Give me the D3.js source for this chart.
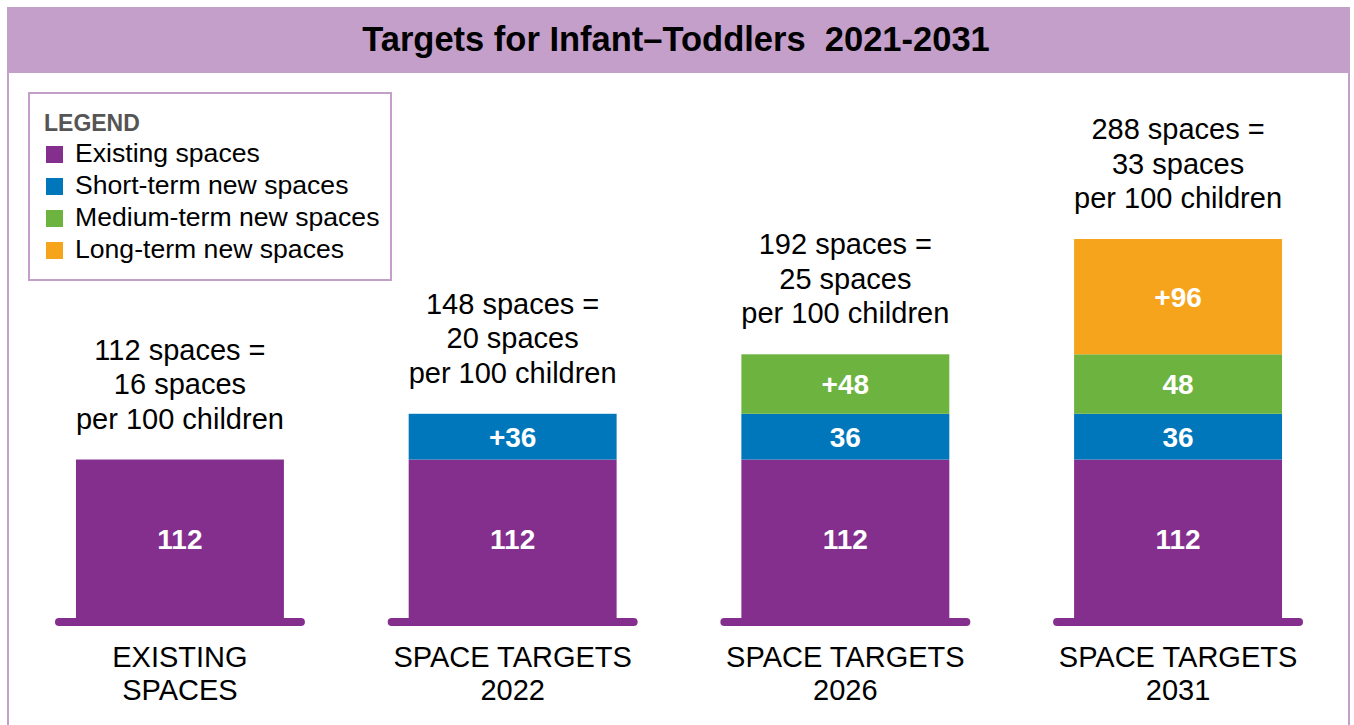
<!DOCTYPE html>
<html>
<head>
<meta charset="utf-8">
<script src="https://cdn.jsdelivr.net/npm/d3@7"></script>
<style>
  body { margin: 0; background: #fff; }
  text { font-family: "Liberation Sans", Arial, sans-serif; }
</style>
</head>
<body>
<script>
// data
var categories = [["EXISTING", "SPACES"], ["SPACE TARGETS", "2022"], ["SPACE TARGETS", "2026"], ["SPACE TARGETS", "2031"]];
var existing   = [112, 112, 112, 112];
var shortTerm  = [0, 36, 36, 36];
var mediumTerm = [0, 0, 48, 48];
var longTerm   = [0, 0, 0, 96];
var totalSpaces = [112, 148, 192, 288];
var per100 = [16, 20, 25, 33];
var seriesNames = ["Existing spaces", "Short-term new spaces", "Medium-term new spaces", "Long-term new spaces"];

var keys = ["existing", "shortTerm", "mediumTerm", "longTerm"];
var colors = { existing: "#842e8e", shortTerm: "#0077bb", mediumTerm: "#6db33f", longTerm: "#f7a41d" };
var lilac = "#c39fc9";

var W = 1354, H = 725;
var baseY = 618;

var rows = categories.map(function(c, i){
    return { cat: i, existing: existing[i], shortTerm: shortTerm[i], mediumTerm: mediumTerm[i], longTerm: longTerm[i] };
});

var stacked = d3.stack().keys(keys)(rows);

var x = d3.scaleBand()
    .domain(d3.range(categories.length))
    .range([42.7, 1315.3])
    .paddingInner(0.375)
    .paddingOuter(0.1);

// the drawing is not quite to scale, a soft power curve fits it
var y = d3.scalePow().exponent(0.91)
    .domain([0, 292])
    .range([baseY, baseY - 379]);

var svg = d3.select("body").append("svg")
    .attr("width", W)
    .attr("height", H);

// frame + title band
svg.append("rect")
    .attr("x", 8).attr("y", 8)
    .attr("width", 1341).attr("height", 730)
    .attr("fill", "white")
    .attr("stroke", lilac)
    .attr("stroke-width", 2);

svg.append("rect")
    .attr("x", 7).attr("y", 7)
    .attr("width", 1343).attr("height", 66)
    .attr("fill", lilac);

svg.append("text")
    .attr("x", 676).attr("y", 51)
    .attr("text-anchor", "middle")
    .attr("font-size", 34.5)
    .attr("font-weight", "bold")
    .attr("fill", "#000")
    .attr("xml:space", "preserve")
    .text("Targets for Infant\u2013Toddlers  2021-2031");

// legend
var lg = svg.append("g").attr("transform", "translate(29,93)");
lg.append("rect")
    .attr("width", 362).attr("height", 187)
    .attr("fill", "white")
    .attr("stroke", lilac)
    .attr("stroke-width", 2);
lg.append("text")
    .attr("x", 15).attr("y", 38)
    .attr("font-size", 23)
    .attr("font-weight", "bold")
    .attr("fill", "#555")
    .text("LEGEND");
var items = lg.selectAll("g.item")
    .data(keys)
    .enter().append("g")
    .attr("class", "item")
    .attr("transform", function(d, i){ return "translate(17," + (62 + i * 32) + ")"; });
items.append("rect")
    .attr("width", 17).attr("height", 17)
    .attr("y", -9)
    .attr("fill", function(d){ return colors[d]; });
items.append("text")
    .attr("x", 29).attr("y", 7)
    .attr("font-size", 26.6)
    .attr("fill", "#000")
    .text(function(d, i){ return seriesNames[i]; });

// base lines
svg.selectAll("line.base")
    .data(categories)
    .enter().append("line")
    .attr("class", "base")
    .attr("x1", function(d, i){ return x(i) - 17; })
    .attr("x2", function(d, i){ return x(i) + x.bandwidth() + 17; })
    .attr("y1", baseY + 4).attr("y2", baseY + 4)
    .attr("stroke", colors.existing)
    .attr("stroke-width", 8)
    .attr("stroke-linecap", "round");

// stacked segments
var layers = svg.selectAll("g.layer")
    .data(stacked)
    .enter().append("g")
    .attr("class", "layer")
    .attr("fill", function(d){ return colors[d.key]; });

layers.selectAll("rect")
    .data(function(d){ return d.filter(function(p){ return p[1] > p[0]; }); })
    .enter().append("rect")
    .attr("x", function(d){ return x(d.data.cat); })
    .attr("width", x.bandwidth())
    .attr("y", function(d){ return y(d[1]); })
    .attr("height", function(d){ return y(d[0]) - y(d[1]); });

// segment value labels
stacked.forEach(function(layer, k){
    layer.forEach(function(p, i){
        if (p[1] <= p[0]) return;
        var v = p[1] - p[0];
        var isTop = (k > 0) && (k === keys.length - 1 || stacked[k + 1][i][1] === stacked[k + 1][i][0]);
        svg.append("text")
            .attr("x", x(i) + x.bandwidth() / 2)
            .attr("y", (y(p[0]) + y(p[1])) / 2 + 10)
            .attr("text-anchor", "middle")
            .attr("font-size", 28)
            .attr("font-weight", "bold")
            .attr("fill", "white")
            .text((isTop ? "+" : "") + v);
    });
});

// totals above bars
var topOf = rows.map(function(r, i){ return y(stacked[keys.length - 1][i][1]); });
var tops = svg.selectAll("g.total")
    .data(categories)
    .enter().append("g")
    .attr("class", "total");
tops.each(function(d, i){
    var lines = [totalSpaces[i] + " spaces =", per100[i] + " spaces", "per 100 children"];
    var g = d3.select(this);
    lines.forEach(function(t, j){
        g.append("text")
            .attr("x", x(i) + x.bandwidth() / 2)
            .attr("y", topOf[i] - 31 - (2 - j) * 34.5)
            .attr("text-anchor", "middle")
            .attr("font-size", 29)
            .attr("fill", "#000")
            .text(t);
    });
});

// category labels
var cats = svg.selectAll("g.cat")
    .data(categories)
    .enter().append("g")
    .attr("class", "cat");
cats.each(function(d, i){
    var g = d3.select(this);
    d.forEach(function(t, j){
        g.append("text")
            .attr("x", x(i) + x.bandwidth() / 2)
            .attr("y", 667 + j * 33)
            .attr("text-anchor", "middle")
            .attr("font-size", 29)
            .attr("fill", "#000")
            .text(t);
    });
});
</script>
</body>
</html>
